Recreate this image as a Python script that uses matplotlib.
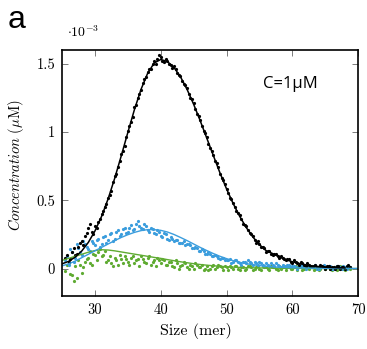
import numpy as np
import matplotlib
matplotlib.use('Agg')
from matplotlib import pyplot as plt

plt.rcParams['font.family'] = 'serif'
plt.rcParams['font.serif'] = ['cmr10']
plt.rcParams['mathtext.fontset'] = 'cm'
plt.rcParams['axes.formatter.use_mathtext'] = True
plt.rcParams['axes.unicode_minus'] = False

# concentration in units of 1e-3 uM, size in mer
# two replicate sets, A on the half grid, B shifted by a quarter
x_a = np.arange(25.5, 68.6, 0.5)
x_b = np.arange(25.75, 68.8, 0.5)

black_a = [0.08, 0.05, 0.12, 0.10, 0.16, 0.20, 0.24, 0.30, 0.27, 0.31,
           0.34, 0.40, 0.45, 0.52, 0.57, 0.68, 0.74, 0.84, 0.90, 1.01,
           1.07, 1.18, 1.25, 1.31, 1.39, 1.44, 1.46, 1.52, 1.53, 1.55,
           1.51, 1.52, 1.49, 1.48, 1.43, 1.41, 1.35, 1.32, 1.25, 1.21,
           1.13, 1.09, 1.01, 0.96, 0.88, 0.83, 0.77, 0.69, 0.65, 0.58,
           0.52, 0.48, 0.42, 0.39, 0.33, 0.31, 0.26, 0.24, 0.19, 0.18,
           0.16, 0.12, 0.13, 0.10, 0.11, 0.08, 0.08, 0.06, 0.07, 0.04,
           0.05, 0.03, 0.04, 0.02, 0.03, 0.01, 0.03, 0.01, 0.02, 0.00,
           0.02, 0.01, 0.00, 0.02, 0.01, 0.00, 0.03]
black_b = [0.10, 0.07, 0.15, 0.11, 0.19, 0.17, 0.26, 0.33, 0.25, 0.30,
           0.36, 0.42, 0.47, 0.54, 0.63, 0.69, 0.79, 0.86, 0.96, 1.04,
           1.11, 1.20, 1.28, 1.36, 1.40, 1.46, 1.50, 1.50, 1.56, 1.52,
           1.53, 1.50, 1.47, 1.46, 1.42, 1.37, 1.34, 1.28, 1.24, 1.17,
           1.12, 1.04, 0.99, 0.91, 0.86, 0.79, 0.74, 0.66, 0.62, 0.55,
           0.51, 0.45, 0.41, 0.36, 0.32, 0.28, 0.25, 0.21, 0.20, 0.16,
           0.15, 0.13, 0.11, 0.11, 0.09, 0.09, 0.07, 0.07, 0.05, 0.06,
           0.04, 0.05, 0.03, 0.04, 0.02, 0.02, 0.01, 0.03, 0.01, 0.02,
           0.00, 0.01, 0.02, 0.00, 0.01, 0.02, 0.01]

blue_a = [0.06, 0.03, 0.12, 0.08, 0.15, 0.10, 0.18, 0.14, 0.20, 0.17,
          0.22, 0.18, 0.24, 0.21, 0.26, 0.22, 0.28, 0.25, 0.30, 0.27,
          0.32, 0.29, 0.35, 0.30, 0.33, 0.28, 0.30, 0.26, 0.28, 0.24,
          0.26, 0.22, 0.23, 0.20, 0.21, 0.19, 0.20, 0.18, 0.17, 0.15,
          0.15, 0.13, 0.13, 0.11, 0.11, 0.09, 0.09, 0.07, 0.08, 0.06,
          0.07, 0.05, 0.06, 0.04, 0.05, 0.04, 0.05, 0.03, 0.04, 0.05,
          0.03, 0.04, 0.02, 0.03, 0.04, 0.02, 0.03, 0.01, 0.03, 0.02,
          0.01, 0.03, 0.02, 0.00, 0.02, 0.01, 0.03, 0.00, 0.02, 0.01,
          0.02, 0.00, 0.01, 0.02, 0.00, 0.01, 0.02]
blue_b = [0.09, 0.14, 0.05, 0.18, 0.12, 0.20, 0.16, 0.13, 0.19, 0.21,
          0.16, 0.23, 0.19, 0.25, 0.20, 0.27, 0.24, 0.29, 0.26, 0.30,
          0.28, 0.33, 0.31, 0.29, 0.31, 0.27, 0.29, 0.25, 0.27, 0.23,
          0.25, 0.21, 0.22, 0.21, 0.19, 0.19, 0.17, 0.18, 0.15, 0.16,
          0.13, 0.14, 0.11, 0.12, 0.09, 0.10, 0.08, 0.08, 0.06, 0.06,
          0.04, 0.06, 0.05, 0.03, 0.05, 0.06, 0.04, 0.05, 0.03, 0.04,
          0.02, 0.03, 0.04, 0.02, 0.03, 0.01, 0.02, 0.03, 0.01, 0.02,
          0.00, 0.02, 0.01, 0.03, 0.01, 0.02, 0.00, 0.01, 0.03, 0.01,
          0.02, 0.00, 0.02, 0.01, 0.02, 0.00, 0.01]

green_a = [-0.02, 0.04, -0.05, 0.02, 0.06, -0.03, 0.05, 0.08, 0.03, 0.10,
           0.12, 0.09, 0.13, 0.06, 0.04, 0.08, 0.03, 0.07, 0.09, 0.05,
           0.08, 0.04, 0.07, 0.09, 0.05, 0.08, 0.03, 0.06, 0.08, 0.04,
           0.06, 0.03, 0.05, 0.01, 0.04, 0.02, 0.05, 0.01, 0.03, 0.00,
           0.03, 0.01, -0.01, 0.02, 0.00, 0.03, 0.01, 0.02, -0.01, 0.01,
           0.02, 0.00, 0.02, -0.01, 0.01, 0.00, 0.02, -0.01, 0.01, 0.00,
           0.02, 0.01, -0.01, 0.01, 0.00, 0.02, 0.01, -0.01, 0.01, 0.00,
           0.02, 0.01, -0.01, 0.01, 0.00, 0.02, 0.00, -0.01, 0.01, 0.00,
           0.02, -0.01, 0.01, 0.00, 0.01, -0.01, 0.01]
green_b = [0.03, -0.04, -0.09, -0.07, 0.03, 0.01, 0.07, 0.04, 0.11, 0.06,
           0.14, 0.10, 0.05, 0.09, 0.02, 0.06, 0.10, 0.04, 0.07, 0.03,
           0.09, 0.06, 0.02, 0.07, 0.04, 0.09, 0.05, 0.02, 0.06, 0.07,
           0.03, 0.05, 0.02, 0.06, 0.00, 0.03, 0.04, 0.00, 0.02, 0.04,
           0.01, 0.03, 0.00, -0.01, 0.02, 0.00, 0.03, 0.01, 0.02, -0.01,
           0.01, 0.02, 0.00, 0.01, -0.01, 0.02, 0.01, 0.00, 0.02, -0.01,
           0.01, 0.00, 0.02, 0.01, -0.01, 0.00, 0.02, 0.01, 0.00, 0.01,
           -0.01, 0.02, 0.00, 0.01, 0.02, -0.01, 0.01, 0.00, 0.02, 0.01,
           0.00, 0.01, -0.01, 0.02, 0.00, 0.01, 0.00]

# fitted curves, read at integer sizes
fit_x = np.arange(25, 71)
black_fit = [0.035, 0.053, 0.084, 0.129, 0.192, 0.275, 0.381, 0.51, 0.66, 0.825,
             0.996, 1.163, 1.311, 1.428, 1.504, 1.53, 1.515, 1.472, 1.403, 1.311,
             1.202, 1.081, 0.954, 0.826, 0.70, 0.583, 0.476, 0.382, 0.30, 0.231,
             0.175, 0.132, 0.11, 0.085, 0.065, 0.05, 0.038, 0.028, 0.02, 0.015,
             0.01, 0.008, 0.006, 0.005, np.nan, np.nan]
blue_fit = [0.02, 0.035, 0.055, 0.08, 0.105, 0.13, 0.155, 0.18, 0.205, 0.228,
            0.248, 0.265, 0.278, 0.285, 0.285, 0.28, 0.268, 0.25, 0.228, 0.205,
            0.18, 0.155, 0.132, 0.11, 0.09, 0.073, 0.058, 0.046, 0.036, 0.028,
            0.022, 0.017, 0.013, 0.01, 0.008, 0.006, 0.005, 0.004, 0.003, 0.003,
            0.002, 0.002, 0.001, 0.001, 0.001, 0.001]
green_fit = [0.06, 0.075, 0.09, 0.105, 0.12, 0.132, 0.138, 0.136, 0.13, 0.122,
             0.114, 0.106, 0.098, 0.09, 0.082, 0.075, 0.066, 0.058, 0.05, 0.043,
             0.036, 0.03, 0.025, 0.021, 0.017, 0.014, 0.011, 0.009, 0.007, 0.006,
             0.005, 0.004, 0.003, 0.003, 0.002, 0.002, 0.002, 0.001, 0.001, 0.001,
             0.001, 0.001, 0.001, 0.0005, 0.0005, 0.0005]

c_black = '#000000'
c_blue = '#3b9ddd'
c_green = '#5fab32'

fig = plt.figure(figsize=(3.67, 3.49), dpi=100)
ax = fig.add_axes([0.169, 0.152, 0.807, 0.705])

for xs, ys, c in [(x_a, green_a, c_green), (x_b, green_b, c_green),
                  (x_a, blue_a, c_blue), (x_b, blue_b, c_blue),
                  (x_a, black_a, c_black), (x_b, black_b, c_black)]:
    ax.plot(xs, ys, 'o', color=c, markersize=2.3, markeredgewidth=0)

ax.plot(fit_x, green_fit, color=c_green, lw=1.0)
ax.plot(fit_x, blue_fit, color=c_blue, lw=1.0)
ax.plot(fit_x, black_fit, color=c_black, lw=1.1)

ax.set_xlim(25, 70)
ax.set_ylim(-0.2, 1.6)
ax.set_xticks([30, 40, 50, 60, 70])
ax.set_xticklabels(['30', '40', '50', '60', '70'])
ax.set_yticks([0, 0.5, 1, 1.5])
ax.set_yticklabels(['0', '0.5', '1', '1.5'])
ax.tick_params(direction='in', length=4, width=0.6, color='#666666',
               top=True, right=True, labelsize=10.5, pad=5)
for s in ax.spines.values():
    s.set_linewidth(1.2)

ax.set_xlabel('Size (mer)', fontsize=11.5)
ax.xaxis.set_label_coords(0.451, -0.11)
ax.set_ylabel(r'$\mathit{Concentration}\ (\mu\mathrm{M})$', fontsize=10.5)
ax.yaxis.set_label_coords(-0.12, 0.532)

fig.text(0.183, 0.893, r'$\cdot10^{-3}$', fontsize=10)
ax.text(0.679, 0.862, 'C=1µM', transform=ax.transAxes, ha='left', va='center',
        fontsize=12, family='Open Sans')
fig.text(0.02, 0.92, 'a', fontsize=23, family='Liberation Sans', va='baseline')

plt.savefig('out.png', dpi=100)
